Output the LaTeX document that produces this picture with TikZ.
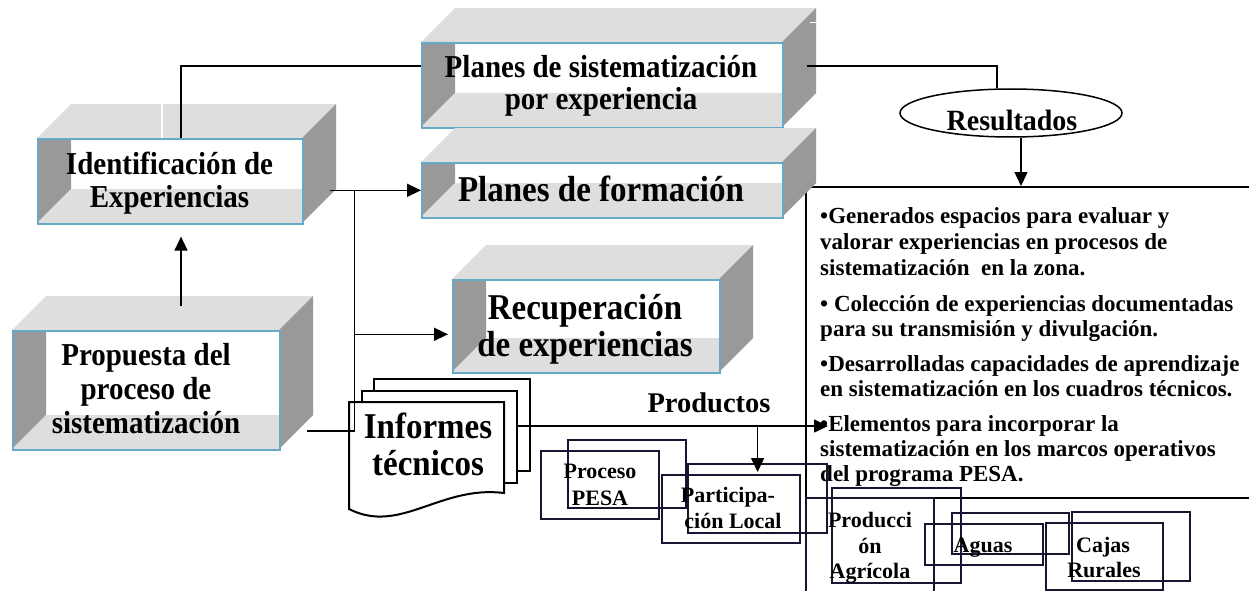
\documentclass[tikz,border=0pt]{standalone}
\usepackage{fontspec}
\usepackage{graphicx}
\setmainfont{Liberation Serif}
\usetikzlibrary{arrows.meta,shapes.geometric}
\definecolor{edgeblue}{RGB}{104,170,198}
\definecolor{topgray}{RGB}{222,222,222}
\definecolor{sidegray}{RGB}{153,153,153}
\definecolor{navy}{RGB}{22,22,48}
\newcommand\tall[1]{\scalebox{1}[1.1]{#1}}
\tikzset{
  front/.style={draw=edgeblue,line width=1.6pt,inner sep=0pt,anchor=north west},
  conn/.style={draw=black,line width=1.5pt},
  arr/.style={conn,-{Triangle[length=14pt,width=13pt]}},
  lbl/.style={anchor=base,inner sep=0pt,font=\bfseries\fontsize{#1}{#1}\selectfont},
  rl/.style={anchor=base west,inner sep=0pt,font=\bfseries\fontsize{23}{25}\selectfont},
  sbox/.style={draw=navy,line width=2.2pt},
  page/.style={draw=black,fill=white,line width=2pt},
}
% 3D open box: name, x1,y1 (front top-left), x2,y2 (front bottom-right)
\newcommand\tubebox[5]{%
  \fill[topgray] (#2,#3) -- (#2+34,#3-34) -- (#4+34,#3-34) -- (#4,#3) -- cycle;
  \fill[sidegray] (#4,#3) -- (#4+34,#3-34) -- (#4+34,#5-34) -- (#4,#5) -- cycle;
  \fill[white] (#2,#3) rectangle (#4,#5);
  \fill[sidegray] (#2,#3) -- (#2+34,#3) -- (#2+34,#5-34) -- (#2,#5) -- cycle;
  \fill[topgray] (#2,#5) -- (#2+34,#5-34) -- (#4,#5-34) -- (#4,#5) -- cycle;
  \node[front,minimum width={(#4-#2)*1pt},minimum height={(#5-#3)*1pt}] (#1) at (#2,#3) {};
}
\newcommand\rectnode[6]{%
  \node[#1,anchor=north west,inner sep=0pt,minimum width={(#5-#3)*1pt},minimum height={(#6-#4)*1pt}] (#2) at (#3,#4) {};
}
\begin{document}
\begin{tikzpicture}[x=1pt,y=-1pt]
\useasboundingbox (0,0) rectangle (1249,591);
\clip (0,0) rectangle (1249,591);

% results box (open to the right)
\rectnode{draw=black,line width=1.5pt}{resbox}{805}{186}{1265}{497}

% 3D boxes
\tubebox{plsis}{421}{42}{782}{127}
\tubebox{plfor}{421}{162}{782}{217}
\tubebox{idex}{37}{138}{302}{223}
\tubebox{recup}{452}{279}{719}{372}
\tubebox{prop}{12}{330}{279}{449}
\draw[white,line width=1.5pt] (162,104) -- (162,138);
\draw[white,line width=1pt] (810,23) -- (816,23);

% box texts
\node[lbl=29] (t1a) at (169.5,174) {\tall{Identificación de}};
\node[lbl=29] (t1b) at (169.5,207.7) {\tall{Experiencias}};
\node[lbl=29] (t2a) at (601,78) {\tall{Planes de sistematización}};
\node[lbl=29] (t2b) at (601,110) {\tall{por experiencia}};
\node[lbl=33] (t3) at (601,201) {\tall{Planes de formación}};
\node[lbl=33] (t4a) at (585,319) {\tall{Recuperación}};
\node[lbl=33] (t4b) at (585,356) {\tall{de experiencias}};
\node[lbl=29] (t5a) at (146,365.7) {\tall{Propuesta del}};
\node[lbl=29] (t5b) at (146,399) {\tall{proceso de}};
\node[lbl=29] (t5c) at (146,433) {\tall{sistematización}};

% documents
\rectnode{page}{pg3}{373}{378}{529}{470}
\rectnode{page}{pg2}{361}{390}{516}{482}
\draw[page] (349,402) -- (504,402) -- (504,493) .. controls (440,485) and (400,535) .. (349,509) -- cycle;
\node[lbl=33] (inf1) at (428,438) {\tall{Informes}};
\node[lbl=33] (inf2) at (428,475) {\tall{técnicos}};

% Resultados ellipse
\node[ellipse,draw=black,line width=1.5pt,minimum width=222pt,minimum height=48pt,inner sep=0pt] (res) at (1011,113) {};
\node[lbl=28] (rest) at (1012,130) {\scalebox{1}[1.05]{Resultados}};
\node[lbl=28.5] (prod) at (709,412) {Productos};

% results text
\node[rl] (r1) at (820,223.3) {•Generados espacios para evaluar y};
\node[rl] (r2) at (820,249) {valorar experiencias en procesos de};
\node[rl] (r3) at (820,275) {sistematización\ \ en la zona.};
\node[rl] (r4) at (820,311.7) {• Colección de experiencias documentadas};
\node[rl] (r5) at (820,336.7) {para su transmisión y divulgación.};
\node[rl] (r6) at (820,371.7) {•Desarrolladas capacidades de aprendizaje};
\node[rl] (r7) at (820,396) {en sistematización en los cuadros técnicos.};
\node[rl] (r8) at (820,431.7) {•Elementos para incorporar la};
\node[rl] (r9) at (820,456) {sistematización en los marcos operativos};
\node[rl] (r10) at (820,481.7) {del programa PESA.};

% product boxes
\rectnode{sbox}{pa}{540}{450}{658}{518}
\rectnode{sbox}{pb}{567}{439}{685}{507}
\rectnode{sbox}{pc}{661}{474}{799}{542}
\rectnode{sbox}{pd}{687}{463}{826}{532}
\rectnode{sbox}{pe}{805}{497}{933}{592}
\rectnode{sbox}{pf}{831}{487}{960}{582}
\rectnode{sbox}{pg}{924}{523}{1042}{564}
\rectnode{sbox}{ph}{951}{512}{1068}{553}
\rectnode{sbox}{pi}{1045}{522}{1162}{589}
\rectnode{sbox}{pj}{1071}{511}{1189}{580}
\node[lbl=22] (s1a) at (600,478) {Proceso};
\node[lbl=22] (s1b) at (600,505) {PESA};
\node[lbl=22] (s2a) at (728,502) {Participa-};
\node[lbl=22] (s2b) at (733,528) {ción Local};
\node[lbl=22] (s3a) at (870,527) {Producci};
\node[lbl=22] (s3b) at (870,553) {ón};
\node[lbl=22] (s3c) at (870,578) {Agrícola};
\node[lbl=22] (s4) at (983,552) {Aguas};
\node[lbl=22] (s5a) at (1103,552) {Cajas};
\node[lbl=22] (s5b) at (1104,577) {Rurales};

% connectors
\coordinate (a1) at ([shift={(144,0)}]idex.north west);
\draw[conn] (a1) |- ([shift={(0,24)}]plsis.north west);
\coordinate (a2) at ([shift={(23,24)}]plsis.north east);
\draw[conn] (a2) -| ([xshift=-14pt]res.north);
\coordinate (a3) at ([xshift=10pt]res.south);
\draw[arr] (a3) -- (a3 |- resbox.north);
\coordinate (a4) at ([shift={(26,9)}]idex.east);
\draw[arr] (a4) -- (a4 -| plfor.west);
\coordinate (a5) at ([xshift=25pt]a4);
\coordinate (a6) at ([shift={(26,40.5)}]prop.east);
\draw[conn] (a5) |- (a6);
\coordinate (a7) at ([shift={(-4,8)}]recup.west);
\draw[arr] (a7 -| a5) -- (a7);
\coordinate (a11) at ([shift={(169,-24)}]prop.north west);
\draw[arr] (a11) -- ([shift={(144,12)}]idex.south west);
\coordinate (a8) at ([shift={(0,-11)}]pg2.east);
\coordinate (a9) at ([shift={(8,-7)}]r8.base west);
\draw[arr] (a8) -- (a8 -| a9);
\draw[arr] (a8 -| pd.north) -- ([shift={(0,9)}]pd.north);
\end{tikzpicture}
\end{document}
